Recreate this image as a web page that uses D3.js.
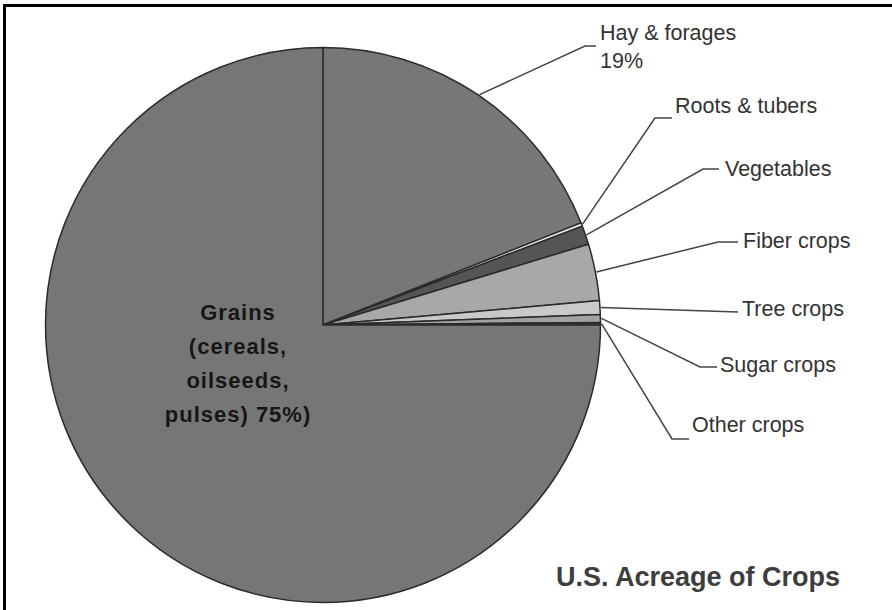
<!DOCTYPE html>
<html>
<head>
<meta charset="utf-8">
<script src="https://cdn.jsdelivr.net/npm/d3@7"></script>
<style>
  html, body { margin: 0; padding: 0; background: #fff; }
  svg { display: block; }
</style>
</head>
<body>
<div id="chart"></div>
<script>
// crop categories and their share of acreage (%), clockwise from 12 o'clock
const categories = ['Hay & forages', 'Roots & tubers', 'Vegetables', 'Fiber crops',
                    'Tree crops', 'Sugar crops', 'Other crops', 'Grains'];
const shares = [19, 0.2, 1.1, 3.3, 0.8, 0.45, 0.15, 75];
const fills = ['#777777', '#e6e6e6', '#555555', '#a8a8a8', '#c9c9c9', '#a2a2a2', '#3a3a3a', '#767676'];

// callout layout: elbow point, end of leader, text anchor
const callouts = [
  { elbow: [585, 46], end: [596, 46], text: [600, 40], lines: ['Hay & forages', '19%'] },
  { elbow: [655, 118], end: [672, 118], text: [675, 113], lines: ['Roots & tubers'] },
  { elbow: [703, 169], end: [719, 169], text: [725, 176], lines: ['Vegetables'] },
  { elbow: [718, 242], end: [738, 242], text: [743, 248], lines: ['Fiber crops'] },
  { elbow: [677, 310], end: [738, 312], text: [742, 316], lines: ['Tree crops'] },
  { elbow: [700, 367], end: [717, 367], text: [720, 372], lines: ['Sugar crops'] },
  { elbow: [672, 439], end: [689, 439], text: [692, 432], lines: ['Other crops'] },
  null
];

const grainsLabel = ['Grains', '(cereals,', 'oilseeds,', 'pulses) 75%)'];
const title = 'U.S. Acreage of Crops';

const width = 892, height = 610;
const cx = 323, cy = 325, radius = 277.5;

const svg = d3.select('#chart').append('svg')
  .attr('width', width)
  .attr('height', height);

// frame (top and left edges only)
svg.append('path')
  .attr('d', `M4.5,${height} L4.5,5.5 L${width},5.5`)
  .attr('fill', 'none')
  .attr('stroke', '#000')
  .attr('stroke-width', 3);

const pie = d3.pie().sort(null).value(d => d)(shares);
const arc = d3.arc().innerRadius(0).outerRadius(radius);

const g = svg.append('g').attr('transform', `translate(${cx},${cy})`);

g.selectAll('path.slice')
  .data(pie)
  .enter().append('path')
  .attr('class', 'slice')
  .attr('d', arc)
  .attr('fill', (d, i) => fills[i])
  .attr('stroke', '#2b2b2b')
  .attr('stroke-width', 1.5)
  .attr('stroke-linejoin', 'round');

// leaders + labels
pie.forEach((d, i) => {
  const c = callouts[i];
  if (!c) return;
  const mid = (d.startAngle + d.endAngle) / 2;
  const sx = cx + (radius + 1) * Math.sin(mid);
  const sy = cy - (radius + 1) * Math.cos(mid);
  svg.append('polyline')
    .attr('points', [[sx, sy], c.elbow, c.end].map(p => p.join(',')).join(' '))
    .attr('fill', 'none')
    .attr('stroke', '#444')
    .attr('stroke-width', 1.5);
  const t = svg.append('text')
    .attr('x', c.text[0])
    .attr('y', c.text[1])
    .attr('font-family', 'Liberation Sans, Arial, sans-serif')
    .attr('font-size', 21.5)
    .attr('fill', '#333');
  c.lines.forEach((ln, k) => {
    t.append('tspan')
      .attr('x', c.text[0])
      .attr('dy', k === 0 ? 0 : 28)
      .text(ln);
  });
});

// grains label inside the big slice
const gl = svg.append('text')
  .attr('x', 238)
  .attr('y', 320)
  .attr('text-anchor', 'middle')
  .attr('font-family', 'Liberation Sans, Arial, sans-serif')
  .attr('font-weight', 'bold')
  .attr('font-size', 22)
  .attr('letter-spacing', 1)
  .attr('fill', '#161616');
grainsLabel.forEach((ln, k) => {
  gl.append('tspan')
    .attr('x', 238)
    .attr('dy', k === 0 ? 0 : 34)
    .text(ln);
});

svg.append('text')
  .attr('x', 556)
  .attr('y', 586)
  .attr('font-family', 'Liberation Sans, Arial, sans-serif')
  .attr('font-weight', 'bold')
  .attr('font-size', 27)
  .attr('fill', '#3d3d3d')
  .text(title);
</script>
</body>
</html>
